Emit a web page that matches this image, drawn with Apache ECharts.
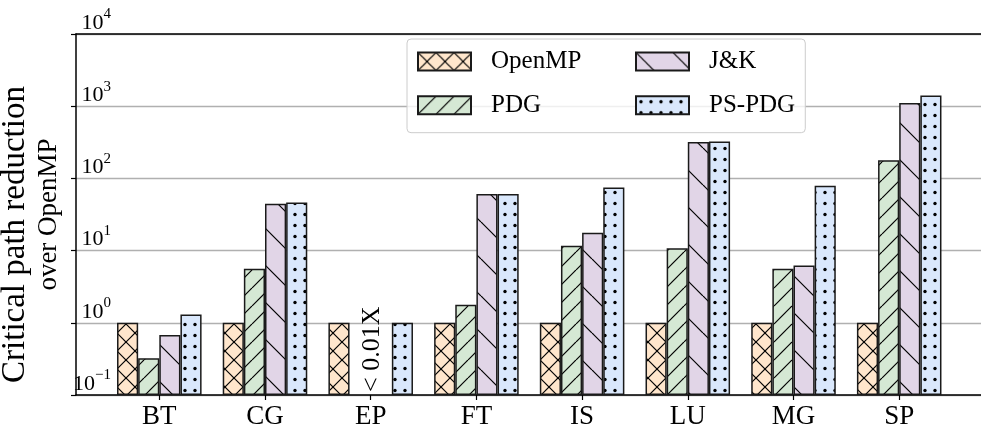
<!DOCTYPE html>
<html><head><meta charset="utf-8">
<script src="https://cdn.jsdelivr.net/npm/echarts@6/dist/echarts.min.js"></script>
<style>html,body{margin:0;padding:0;background:#fff}#c{width:981px;height:434px}</style>
</head><body><div id="c"></div>
<script>
// ---- data ----
const categories = ['BT', 'CG', 'EP', 'FT', 'IS', 'LU', 'MG', 'SP'];
const seriesNames = ['OpenMP', 'PDG', 'J&K', 'PS-PDG'];
const openmpValues = [1, 1, 1, 1, 1, 1, 1, 1];
const pdgValues    = [0.324, 5.6, null, 1.78, 11.7, 10.8, 5.6, 179];
const jkValues     = [0.68, 44.5, null, 61, 17.6, 318, 6.2, 1104];
const pspdgValues  = [1.30, 46.4, 1, 61, 74.8, 325, 79, 1406];
const yMin = 0.1, yMax = 10000;
const epNote = '< 0.01X';
const yNameLine1 = 'Critical path reduction';
const yNameLine2 = 'over OpenMP';

// ---- styles ----
const FONT = '"Liberation Serif", "Times New Roman", serif';
function makePattern(kind, bg) {
  let w, h;
  if (kind === 'x' || kind === '/') { w = h = 18; }
  else if (kind === '\\') { w = h = 37; }
  else { w = 10; h = 11; }
  const c = document.createElement('canvas');
  c.width = w; c.height = h;
  const g = c.getContext('2d');
  g.fillStyle = bg; g.fillRect(0, 0, w, h);
  g.strokeStyle = '#000'; g.lineWidth = 1.2; g.fillStyle = '#000';
  const line = (x1, y1, x2, y2) => { g.beginPath(); g.moveTo(x1, y1); g.lineTo(x2, y2); g.stroke(); };
  if (kind === 'x' || kind === '/') for (let k = -1; k <= 1; k++) line(k * w, h, k * w + w, 0);
  if (kind === 'x' || kind === '\\') for (let k = -1; k <= 1; k++) line(k * w, 0, k * w + w, h);
  if (kind === 'dots') {
    g.beginPath(); g.arc(5, 5.5, 1.7, 0, Math.PI * 2); g.fill();
  }
  return { image: c, repeat: 'repeat' };
}
const fills = [
  makePattern('x', '#ffe6cc'),
  makePattern('/', '#d5e8d4'),
  makePattern('\\', '#e1d5e7'),
  makePattern('dots', '#dae8fc')
];
const valueLists = [openmpValues, pdgValues, jkValues, pspdgValues];

const chart = echarts.init(document.getElementById('c'), null, { renderer: 'canvas' });
const legendCommon = {
  orient: 'vertical', top: 39, itemWidth: 53, itemHeight: 18, itemGap: 18.7,
  icon: 'rect',
  textStyle: { fontFamily: FONT, fontSize: 25, color: '#000', lineHeight: 18, padding: [0, 0, 0, 15] }
};
const option = {
  animation: false,
  backgroundColor: '#fff',
  grid: [
    { left: 76, top: 34, right: -5, bottom: 39, containLabel: false, outerBoundsMode: 'none' },
    { left: 106.45, width: 845.6, top: 34, bottom: 39, containLabel: false, outerBoundsMode: 'none' }
  ],
  legend: [
    Object.assign({}, legendCommon, {
      data: ['OpenMP', 'PDG'], left: 407,
      padding: [10, 224, 15, 10],
      backgroundColor: 'rgba(255,255,255,0.8)', borderColor: '#cccccc', borderWidth: 1, borderRadius: 4
    }),
    Object.assign({}, legendCommon, {
      data: ['J&K', 'PS-PDG'], left: 625, padding: [10, 10, 15, 10]
    })
  ],
  xAxis: [
    { gridIndex: 0, type: 'value', min: 0, max: 1, position: 'bottom',
      axisLine: { show: true, lineStyle: { color: '#000', width: 1.5 } },
      axisTick: { show: false }, axisLabel: { show: false }, splitLine: { show: false } },
    { gridIndex: 0, type: 'value', min: 0, max: 1, position: 'top',
      axisLine: { show: true, lineStyle: { color: '#000', width: 1.5 } },
      axisTick: { show: false }, axisLabel: { show: false }, splitLine: { show: false } },
    { gridIndex: 1, type: 'category', data: categories, position: 'bottom',
      axisLine: { show: false },
      axisTick: { show: true, alignWithLabel: true, length: 5, lineStyle: { color: '#000', width: 1.2 } },
      axisLabel: { fontFamily: FONT, fontSize: 27, color: '#000', margin: 8 },
      splitLine: { show: false } }
  ],
  yAxis: [
    { gridIndex: 0, type: 'log', logBase: 10, min: yMin, max: yMax,
      name: '{a|' + yNameLine1 + '}\n{b|' + yNameLine2 + '}',
      nameLocation: 'middle', nameRotate: 90, nameGap: 9,
      nameTextStyle: {
        color: '#000',
        rich: {
          a: { fontFamily: FONT, fontSize: 33, color: '#000', lineHeight: 35, padding: [0, 40, 0, 0] },
          b: { fontFamily: FONT, fontSize: 27, color: '#000', lineHeight: 32 }
        }
      },
      axisLine: { show: true, lineStyle: { color: '#000', width: 1.5 } },
      axisTick: { show: true, length: 5, lineStyle: { color: '#000', width: 1.2 } },
      splitLine: { show: true, lineStyle: { color: '#b0b0b0', width: 1.3 } },
      axisLabel: {
        inside: true, align: 'right', margin: 35, verticalAlign: 'bottom',
        formatter: function (v) {
          const e = Math.round(Math.log10(v));
          return '{b|10}{s|' + (e < 0 ? '\u2212' + (-e) : e) + '}';
        },
        rich: {
          b: { fontFamily: FONT, fontSize: 22, color: '#000', lineHeight: 22, verticalAlign: 'bottom' },
          s: { fontFamily: FONT, fontSize: 15, color: '#000', lineHeight: 15, padding: [0, 0, 12, 0], verticalAlign: 'bottom' }
        }
      } },
    { gridIndex: 1, type: 'log', logBase: 10, min: yMin, max: yMax, show: false, startValue: yMin }
  ],
  series: seriesNames.map((n, i) => ({
    name: n, type: 'bar', xAxisIndex: 2, yAxisIndex: 1,
    data: valueLists[i],
    barGap: '0%', barCategoryGap: '20%',
    itemStyle: { color: fills[i], borderColor: '#1a1a1a', borderWidth: 1.5 }
  }))
};
chart.setOption(option);
const p = chart.convertToPixel({ xAxisIndex: 2, yAxisIndex: 1 }, ['EP', yMin]);
chart.setOption({
  graphic: [{
    type: 'text', x: p[0] + 1, y: p[1] - 3, rotation: Math.PI / 2,
    style: { text: epNote, font: '26px ' + FONT, fill: '#000', align: 'left', verticalAlign: 'middle' }
  }]
});
</script></body></html>
